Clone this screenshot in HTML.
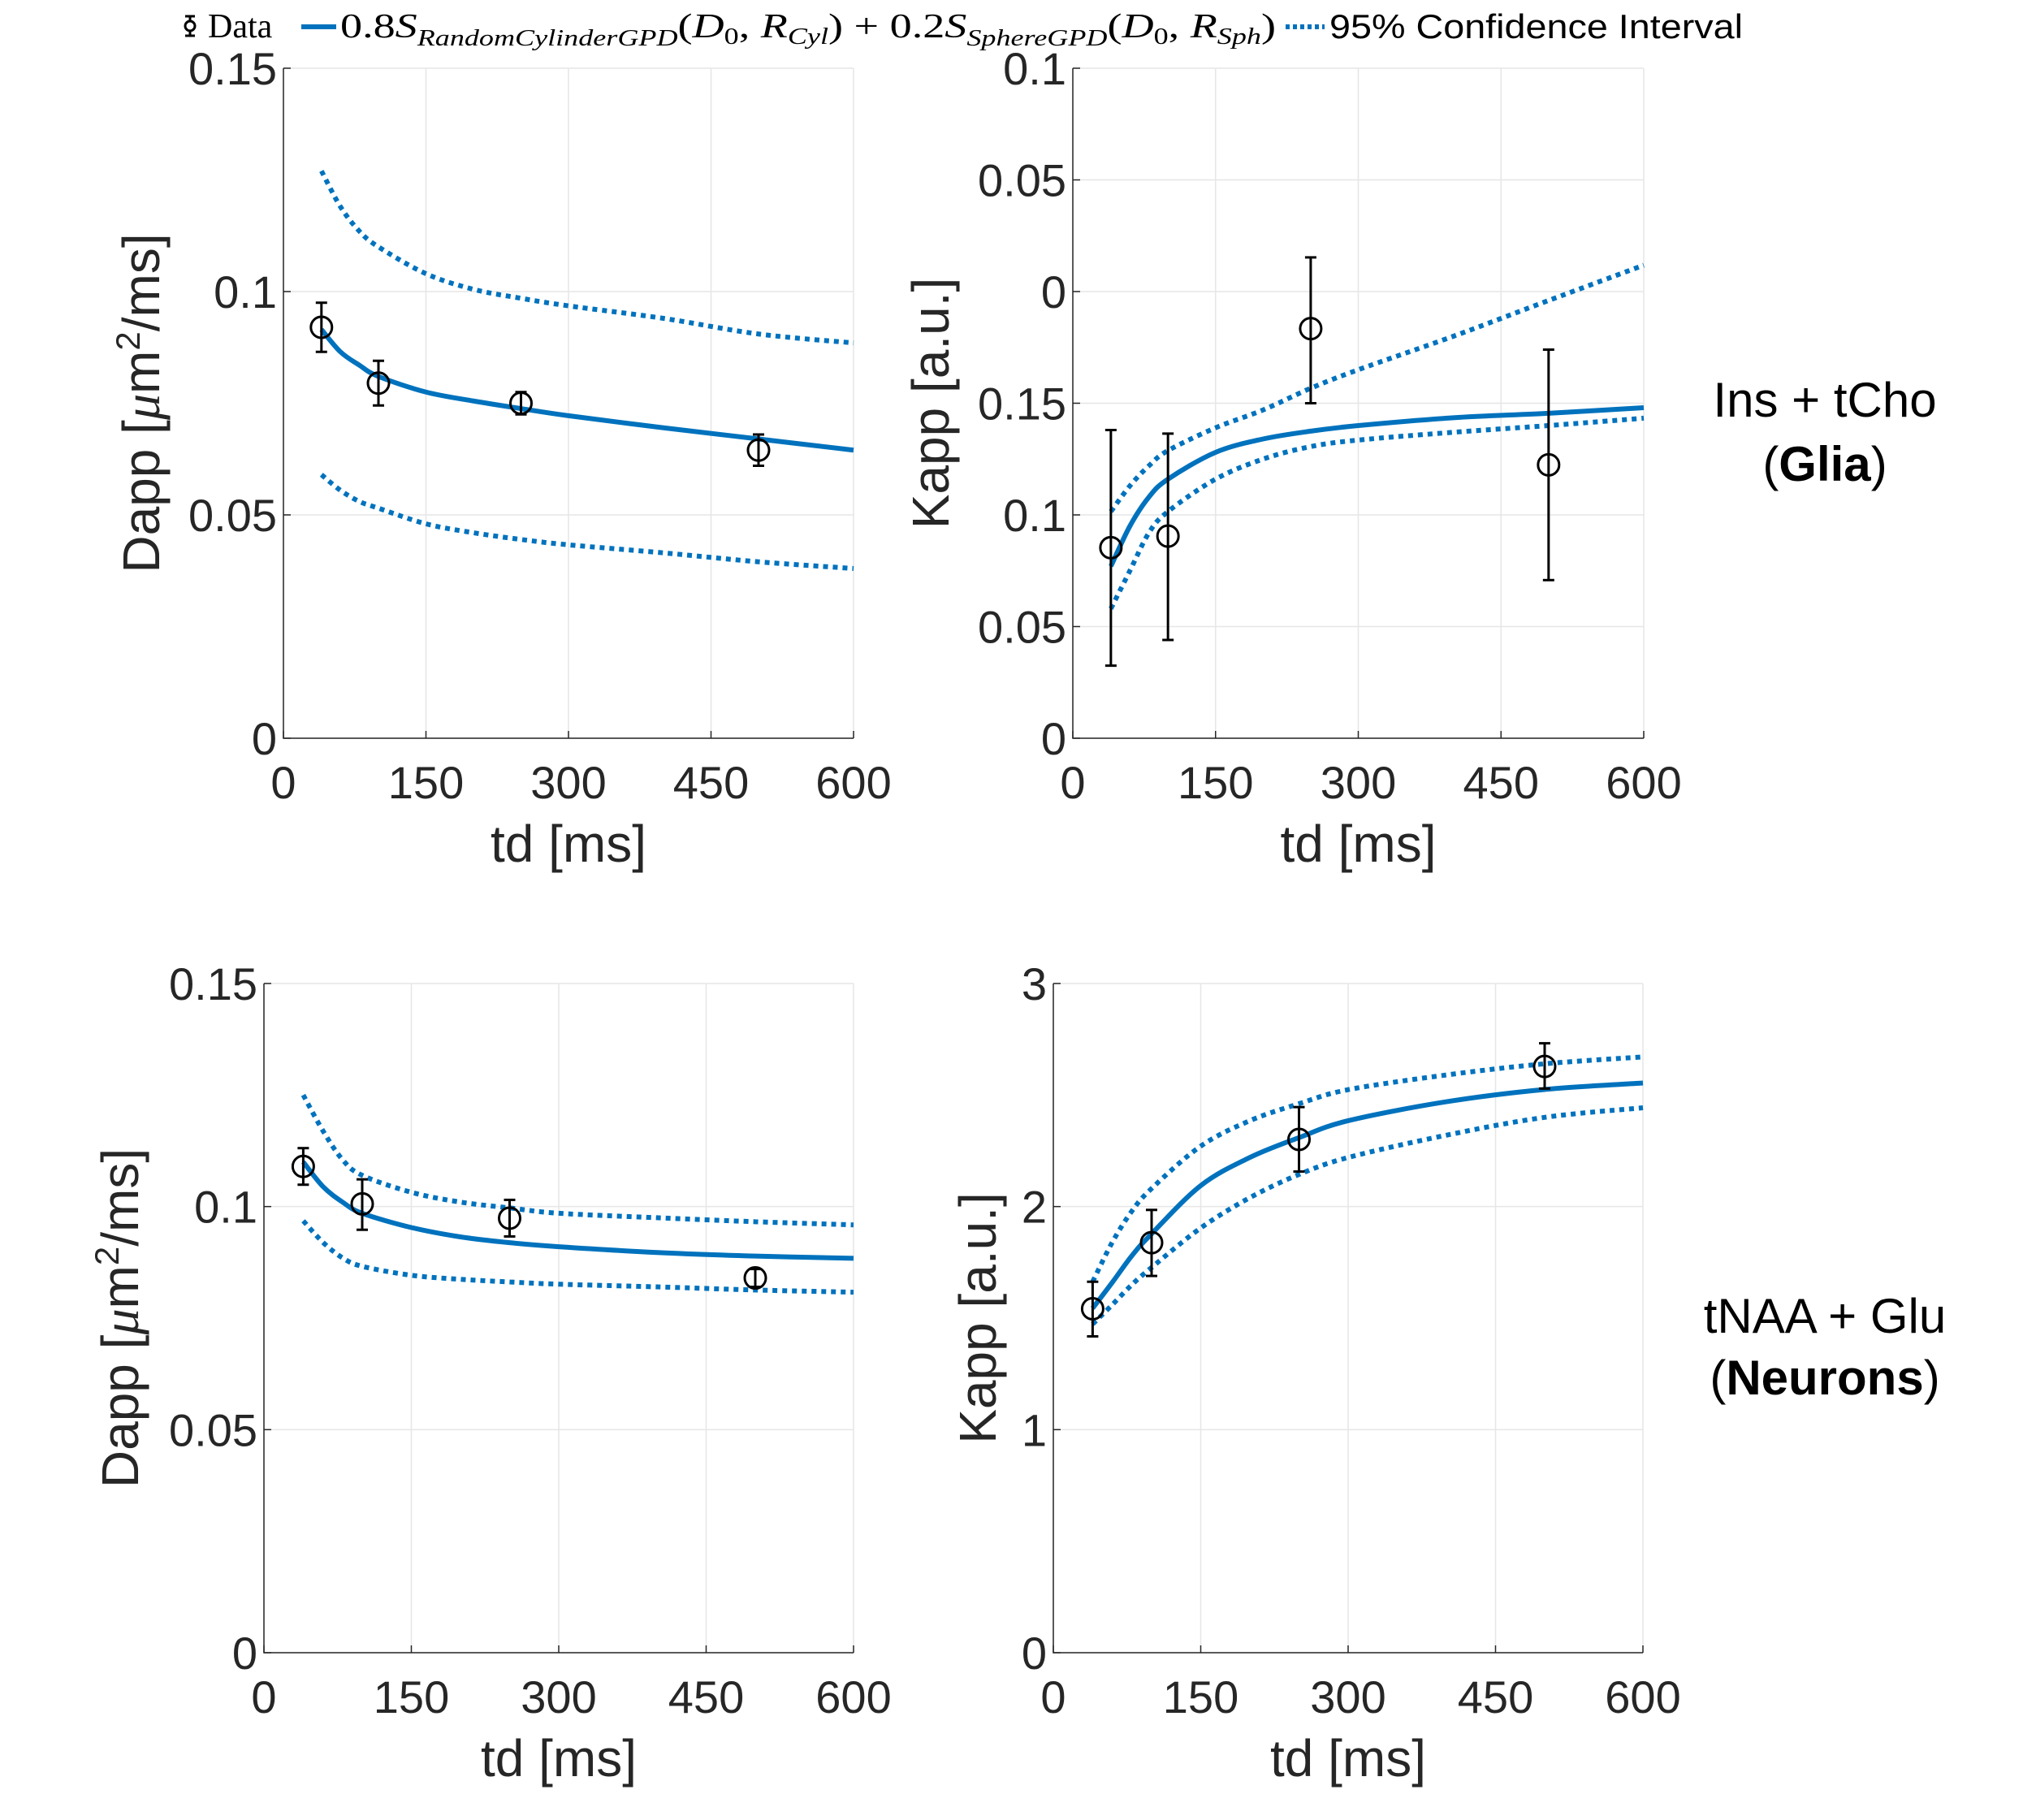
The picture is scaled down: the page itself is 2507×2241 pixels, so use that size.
<!DOCTYPE html>
<html><head><meta charset="utf-8"><style>
html,body{margin:0;padding:0;background:#fff}
svg{display:block}
.tk{font-family:"Liberation Sans",sans-serif;font-size:56px;fill:#262626}
.ttl{font-family:"Liberation Sans",sans-serif;font-size:64px;fill:#262626}
.side{font-family:"Liberation Sans",sans-serif;font-size:60px;fill:#000}
.lg{font-family:"Liberation Serif",serif;font-size:42px;fill:#000}
</style></head><body>
<svg id="fig" width="2507" height="2241" viewBox="0 0 2507 2241" xmlns="http://www.w3.org/2000/svg">
<g>
  <g>
    <line x1="234" y1="20" x2="234" y2="44" stroke="#000" stroke-width="3"/>
    <line x1="228" y1="20" x2="240" y2="20" stroke="#000" stroke-width="3"/>
    <line x1="228" y1="44" x2="240" y2="44" stroke="#000" stroke-width="3"/>
    <circle cx="234" cy="32" r="6" fill="#fff" stroke="#000" stroke-width="3"/>
  </g>
  <text class="lg" x="256" y="46">Data</text>
  <line x1="371" y1="33" x2="414" y2="33" stroke="#0072BD" stroke-width="6"/>
  <text class="lg" x="419" y="46" textLength="1152" lengthAdjust="spacingAndGlyphs">0.8<tspan font-style="italic">S</tspan><tspan font-style="italic" font-size="28" dy="10">RandomCylinderGPD</tspan><tspan dy="-10">(</tspan><tspan font-style="italic">D</tspan><tspan font-size="28" dy="8">0</tspan><tspan dy="-8">, </tspan><tspan font-style="italic">R</tspan><tspan font-style="italic" font-size="28" dy="8">Cyl</tspan><tspan dy="-8">) + 0.2</tspan><tspan font-style="italic">S</tspan><tspan font-style="italic" font-size="28" dy="10">SphereGPD</tspan><tspan dy="-10">(</tspan><tspan font-style="italic">D</tspan><tspan font-size="28" dy="8">0</tspan><tspan dy="-8">, </tspan><tspan font-style="italic">R</tspan><tspan font-style="italic" font-size="28" dy="8">Sph</tspan><tspan dy="-8">)</tspan></text>
  <line x1="1583" y1="33" x2="1631" y2="33" stroke="#0072BD" stroke-width="6" stroke-dasharray="5 4"/>
  <text x="1637" y="47" font-family="Liberation Sans, sans-serif" font-size="42" fill="#000" textLength="509" lengthAdjust="spacingAndGlyphs">95% Confidence Interval</text>
</g>
<text class="side" x="2247" y="513" text-anchor="middle">Ins + tCho</text>
<text class="side" x="2247" y="592" text-anchor="middle">(<tspan font-weight="bold">Glia</tspan>)</text>
<text class="side" x="2247" y="1641" text-anchor="middle">tNAA + Glu</text>
<text class="side" x="2247" y="1717" text-anchor="middle">(<tspan font-weight="bold">Neurons</tspan>)</text>
</svg>
<script>
// shared x categories
const ptTd = [40, 100, 250, 500];
const fitTd = [40, 60, 80, 100, 150, 200, 250, 300, 400, 500, 600];
const xTicks = [0, 150, 300, 450, 600];

// Panel A: Glia Dapp
const aPts = [0.092, 0.0795, 0.075, 0.0645];
const aLo = [0.0865, 0.0745, 0.0725, 0.061];
const aHi = [0.0975, 0.0845, 0.0775, 0.068];
const aFit = [0.0915, 0.0865, 0.0835, 0.081, 0.0775, 0.0755, 0.0738, 0.0722, 0.0695, 0.067, 0.0645];
const aUp = [0.127, 0.119, 0.1135, 0.110, 0.104, 0.1005, 0.0985, 0.0968, 0.094, 0.0905, 0.0885];
const aDn = [0.059, 0.0555, 0.053, 0.0515, 0.048, 0.046, 0.0445, 0.0433, 0.0415, 0.0395, 0.038];
const aYTicks = [0, 0.05, 0.1, 0.15];
const aYLabels = ["0", "0.05", "0.1", "0.15"];

// Panel B: Glia Kapp
const bPts = [0.0853, 0.0905, 0.1834, 0.1224];
const bLo = [0.0325, 0.044, 0.150, 0.0708];
const bHi = [0.138, 0.1364, 0.2153, 0.174];
const bFit = [0.077, 0.095, 0.108, 0.116, 0.128, 0.134, 0.1375, 0.140, 0.1435, 0.1455, 0.148];
const bUp = [0.1015, 0.113, 0.122, 0.1288, 0.139, 0.147, 0.1567, 0.165, 0.180, 0.196, 0.2118];
const bDn = [0.058, 0.075, 0.092, 0.1015, 0.116, 0.125, 0.1306, 0.1335, 0.137, 0.140, 0.1433];
const bYTicks = [0, 0.05, 0.1, 0.15, 0.2, 0.25, 0.3];
const bYLabels = ["0", "0.05", "0.1", "0.15", "0", "0.05", "0.1"];

// Panel C: Neurons Dapp
const cPts = [0.109, 0.1006, 0.0974, 0.084];
const cLo = [0.1049, 0.0948, 0.0933, 0.082];
const cHi = [0.1131, 0.1061, 0.1015, 0.086];
const cFit = [0.110, 0.1045, 0.101, 0.0985, 0.0953, 0.0932, 0.0919, 0.091, 0.0897, 0.0889, 0.0884];
const cUp = [0.125, 0.117, 0.1105, 0.107, 0.1032, 0.101, 0.0997, 0.0985, 0.0975, 0.0966, 0.0959];
const cDn = [0.0968, 0.092, 0.0885, 0.0866, 0.0846, 0.0837, 0.0831, 0.0826, 0.082, 0.0813, 0.0808];
const cYTicks = [0, 0.05, 0.1, 0.15];
const cYLabels = ["0", "0.05", "0.1", "0.15"];

// Panel D: Neurons Kapp
const dPts = [1.542, 1.838, 2.301, 2.628];
const dLo = [1.418, 1.689, 2.157, 2.529];
const dHi = [1.663, 1.985, 2.446, 2.732];
const dFit = [1.544, 1.66, 1.78, 1.878, 2.094, 2.22, 2.309, 2.385, 2.47, 2.525, 2.554];
const dUp = [1.663, 1.84, 1.98, 2.081, 2.271, 2.385, 2.461, 2.524, 2.59, 2.64, 2.671];
const dDn = [1.473, 1.56, 1.65, 1.727, 1.904, 2.04, 2.144, 2.22, 2.32, 2.40, 2.443];
const dYTicks = [0, 1, 2, 3];
const dYLabels = ["0", "1", "2", "3"];

const NS = "http://www.w3.org/2000/svg";
const svg = document.getElementById("fig");
function mk(tag, attrs, parent) {
  const e = document.createElementNS(NS, tag);
  for (const k in attrs) e.setAttribute(k, attrs[k]);
  (parent || svg).appendChild(e);
  return e;
}
function smooth(pts) {
  let d = "M" + pts[0][0] + "," + pts[0][1];
  for (let i = 0; i < pts.length - 1; i++) {
    const p0 = pts[Math.max(0, i - 1)], p1 = pts[i], p2 = pts[i + 1], p3 = pts[Math.min(pts.length - 1, i + 2)];
    const c1x = p1[0] + (p2[0] - p0[0]) / 6, c1y = p1[1] + (p2[1] - p0[1]) / 6;
    const c2x = p2[0] - (p3[0] - p1[0]) / 6, c2y = p2[1] - (p3[1] - p1[1]) / 6;
    d += " C" + c1x + "," + c1y + " " + c2x + "," + c2y + " " + p2[0] + "," + p2[1];
  }
  return d;
}
function panel(cfg) {
  const g = mk("g", {});
  
  
  const L = cfg.x0, R = cfg.x1, T = cfg.y0, B = cfg.y1;
  const xs = v => L + (v - 0) / 600 * (R - L);
  const ys = v => B - (v - cfg.ymin) / (cfg.ymax - cfg.ymin) * (B - T);
  xTicks.forEach(t => {
    const l = mk("line", {x1: xs(t), x2: xs(t), y1: T, y2: B, stroke: "#e6e6e6", "stroke-width": 1.5}, g);
    
    
  });
  cfg.yt.forEach(t => {
    const l = mk("line", {x1: L, x2: R, y1: ys(t), y2: ys(t), stroke: "#e6e6e6", "stroke-width": 1.5}, g);
    
    
  });
  const ax = mk("path", {d: `M${L},${T} L${L},${B} L${R},${B}`, fill: "none", stroke: "#262626", "stroke-width": 1.5}, g);
  
  
  xTicks.forEach(t => {
    mk("line", {x1: xs(t), x2: xs(t), y1: B, y2: B - 9, stroke: "#262626", "stroke-width": 1.5}, g);
    const tx = mk("text", {x: xs(t), y: B + 74, "text-anchor": "middle", class: "tk"}, g);
    tx.textContent = t;
    
    
  });
  cfg.yt.forEach((t, i) => {
    mk("line", {x1: L, x2: L + 9, y1: ys(t), y2: ys(t), stroke: "#262626", "stroke-width": 1.5}, g);
    const tx = mk("text", {x: L - 8, y: ys(t) + 20, "text-anchor": "end", class: "tk"}, g);
    tx.textContent = cfg.yl[i];
    
    
  });
  const xt = mk("text", {x: (L + R) / 2, y: B + 152, "text-anchor": "middle", class: "ttl"}, g);
  xt.textContent = "td [ms]";
  
  
  const yt = mk("text", {x: 0, y: 0, "text-anchor": "middle", class: "ttl", transform: `translate(${cfg.ytx},${(T + B) / 2}) rotate(-90)`}, g);
  if (cfg.dapp) {
    yt.innerHTML = 'Dapp [<tspan font-family="Liberation Serif, serif" font-style="italic">μ</tspan>m<tspan font-size="42" dy="-24">2</tspan><tspan dy="24">/ms]</tspan>';
  } else {
    yt.textContent = "Kapp [a.u.]";
  }
  
  
  [cfg.up, cfg.dn].forEach((arr, k) => {
    const p = mk("path", {d: smooth(fitTd.map((t, i) => [xs(t), ys(arr[i])])), fill: "none", stroke: "#0072BD", "stroke-width": 6, "stroke-dasharray": "6 6"}, g);
    
    
  });
  const f = mk("path", {d: smooth(fitTd.map((t, i) => [xs(t), ys(cfg.fit[i])])), fill: "none", stroke: "#0072BD", "stroke-width": 6}, g);
  
  
  ptTd.forEach((t, i) => {
    const x = xs(t);
    const eg = mk("g", {}, g);
    
    
    mk("line", {x1: x, x2: x, y1: ys(cfg.lo[i]), y2: ys(cfg.hi[i]), stroke: "#000", "stroke-width": 3}, eg);
    mk("line", {x1: x - 7, x2: x + 7, y1: ys(cfg.lo[i]), y2: ys(cfg.lo[i]), stroke: "#000", "stroke-width": 3}, eg);
    mk("line", {x1: x - 7, x2: x + 7, y1: ys(cfg.hi[i]), y2: ys(cfg.hi[i]), stroke: "#000", "stroke-width": 3}, eg);
    mk("circle", {cx: x, cy: ys(cfg.pts[i]), r: 13, fill: "none", stroke: "#000", "stroke-width": 3}, eg);
  });
}
panel({name: "panel-glia-dapp", x0: 349, x1: 1051, y0: 84, y1: 909, ymin: 0, ymax: 0.15, yt: aYTicks, yl: aYLabels, pts: aPts, lo: aLo, hi: aHi, fit: aFit, up: aUp, dn: aDn, dapp: true, ytx: 196});
panel({name: "panel-glia-kapp", x0: 1321, x1: 2024, y0: 84, y1: 909, ymin: 0, ymax: 0.3, yt: bYTicks, yl: bYLabels, pts: bPts, lo: bLo, hi: bHi, fit: bFit, up: bUp, dn: bDn, dapp: false, ytx: 1168});
panel({name: "panel-neurons-dapp", x0: 325, x1: 1051, y0: 1211, y1: 2035, ymin: 0, ymax: 0.15, yt: cYTicks, yl: cYLabels, pts: cPts, lo: cLo, hi: cHi, fit: cFit, up: cUp, dn: cDn, dapp: true, ytx: 170});
panel({name: "panel-neurons-kapp", x0: 1297, x1: 2023, y0: 1211, y1: 2035, ymin: 0, ymax: 3, yt: dYTicks, yl: dYLabels, pts: dPts, lo: dLo, hi: dHi, fit: dFit, up: dUp, dn: dDn, dapp: false, ytx: 1226});
</script>
</body></html>
